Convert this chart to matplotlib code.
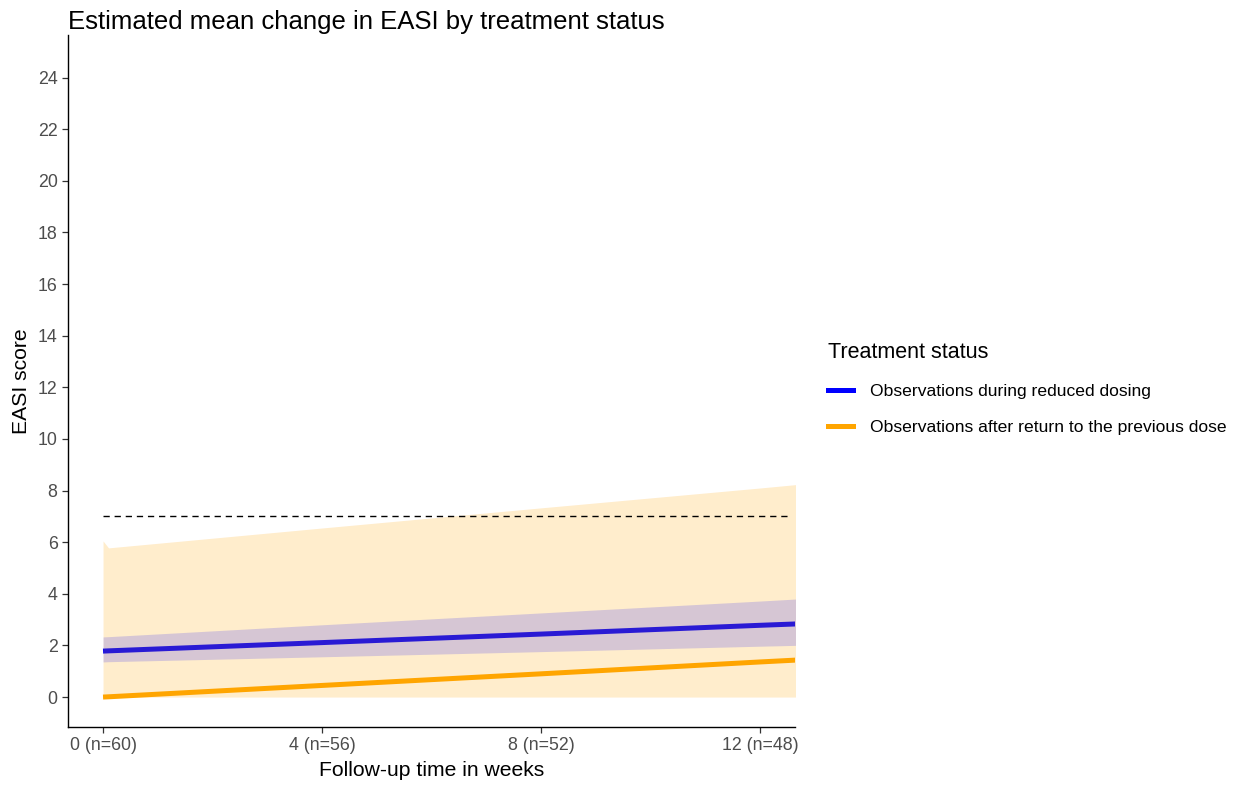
import matplotlib.pyplot as plt
from matplotlib.lines import Line2D

plt.rcParams['font.family'] = ['Liberation Sans', 'DejaVu Sans']

# Model estimates of EASI change over follow-up (weeks)
weeks = [0, 0.1, 4, 8, 12, 13]

reduced_mean = [1.78, 1.79, 2.11, 2.44, 2.78, 2.86]
reduced_lo = [1.36, 1.37, 1.56, 1.76, 1.97, 2.02]
reduced_hi = [2.33, 2.34, 2.80, 3.26, 3.72, 3.84]

returned_mean = [0.0, 0.01, 0.45, 0.90, 1.36, 1.47]
returned_lo = [0.0, 0.0, 0.0, 0.0, 0.0, 0.0]
returned_hi = [6.05, 5.78, 6.55, 7.33, 8.10, 8.30]

threshold = 7
tick_weeks = [0, 4, 8, 12]
tick_labels = ['0 (n=60)', '4 (n=56)', '8 (n=52)', '12 (n=48)']
y_ticks = list(range(0, 25, 2))

blue = '#0000FF'
orange = '#FFA500'

fig = plt.figure(figsize=(12.42, 7.86), dpi=100)
ax = fig.add_axes([68 / 1242, 59 / 786, (795 - 68) / 1242, (727 - 35) / 786])

# lines first, ribbons drawn over them (orange ribbon below the blue one)
ax.plot(weeks, reduced_mean, color=blue, lw=3.6, solid_capstyle='butt', zorder=1)
ax.plot(weeks, returned_mean, color=orange, lw=3.6, solid_capstyle='butt', zorder=1)
ax.fill_between(weeks, returned_lo, returned_hi, color=orange, alpha=0.2, lw=0, zorder=2)
ax.fill_between(weeks, reduced_lo, reduced_hi, color=blue, alpha=0.16, lw=0, zorder=3)

ax.hlines(threshold, 0, 12.55, colors='black', linestyles=(0, (4.5, 3.5)), lw=1.0, zorder=4)

ax.set_xlim(-0.64, 12.64)
ax.set_ylim(-1.16, 25.65)
ax.set_xticks(tick_weeks, tick_labels)
ax.set_yticks(y_ticks)
ax.tick_params(colors='#333333', labelcolor='#4D4D4D', labelsize=12.8, length=4, width=0.9)
for side in ['top', 'right']:
    ax.spines[side].set_visible(False)
for side in ['left', 'bottom']:
    ax.spines[side].set_linewidth(1.0)

ax.set_xlabel('Follow-up time in weeks', fontsize=15.2, labelpad=5)
ax.set_ylabel('EASI score', fontsize=15.2, labelpad=5)

fig.text(68 / 1242, 1 - 22 / 786, 'Estimated mean change in EASI by treatment status',
         fontsize=18.5, ha='left', va='center')

handles = [Line2D([], [], color=blue, lw=3.6),
           Line2D([], [], color=orange, lw=3.6)]
leg = fig.legend(handles,
                 ['Observations during reduced dosing',
                  'Observations after return to the previous dose'],
                 title='Treatment status', loc='upper left',
                 bbox_to_anchor=(812 / 1242, 1 - 326 / 786), frameon=False,
                 fontsize=12.6, title_fontsize=15.5, handlelength=1.47,
                 handletextpad=0.95, labelspacing=1.2)
leg._legend_box.align = 'left'

fig.savefig('out.png', dpi=100)
